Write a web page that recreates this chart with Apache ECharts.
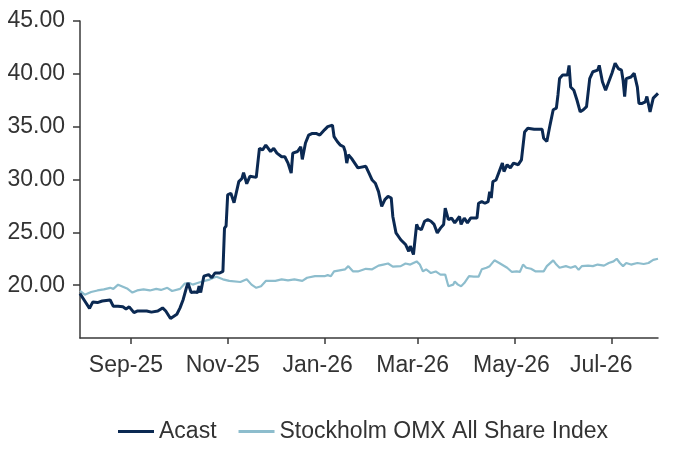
<!DOCTYPE html>
<html>
<head>
<meta charset="utf-8">
<script src="https://cdn.jsdelivr.net/npm/echarts@6/dist/echarts.min.js"></script>
<style>
  html, body { margin: 0; padding: 0; background: #fff; }
  #chart { width: 687px; height: 467px; }
</style>
</head>
<body>
<div id="chart"></div>
<script>
// share price, SEK
const acast = [
  ['2025-07-31', 19.2], ['2025-08-03', 18.5], ['2025-08-06', 17.8], ['2025-08-08', 18.4],
  ['2025-08-11', 18.35], ['2025-08-14', 18.5], ['2025-08-15', 18.35], ['2025-08-19', 18.6],
  ['2025-08-21', 18.0], ['2025-08-24', 18.0], ['2025-08-27', 17.95], ['2025-08-29', 17.75],
  ['2025-08-31', 17.95], ['2025-09-03', 17.4], ['2025-09-05', 17.55], ['2025-09-11', 17.55],
  ['2025-09-14', 17.45], ['2025-09-18', 17.55], ['2025-09-21', 17.85], ['2025-09-23', 17.55],
  ['2025-09-26', 16.85], ['2025-09-30', 17.25], ['2025-10-02', 17.85], ['2025-10-04', 18.65],
  ['2025-10-06', 19.75], ['2025-10-07', 20.2], ['2025-10-09', 19.3], ['2025-10-11', 19.35],
  ['2025-10-13', 19.3], ['2025-10-14', 19.9], ['2025-10-15', 19.3], ['2025-10-17', 20.85],
  ['2025-10-20', 21.0], ['2025-10-22', 20.7], ['2025-10-24', 21.15], ['2025-10-27', 21.15],
  ['2025-10-29', 21.3], ['2025-10-30', 25.4], ['2025-10-31', 25.6], ['2025-11-01', 28.55],
  ['2025-11-03', 28.7], ['2025-11-05', 27.8], ['2025-11-08', 29.8], ['2025-11-10', 30.1],
  ['2025-11-11', 30.65], ['2025-11-13', 29.6], ['2025-11-15', 30.3], ['2025-11-19', 30.2],
  ['2025-11-21', 32.95], ['2025-11-23', 32.8], ['2025-11-25', 33.25], ['2025-11-28', 32.65],
  ['2025-11-30', 32.95], ['2025-12-02', 32.5], ['2025-12-05', 32.15], ['2025-12-07', 32.15],
  ['2025-12-09', 31.55], ['2025-12-11', 30.6], ['2025-12-12', 32.5], ['2025-12-15', 32.65],
  ['2025-12-17', 33.1], ['2025-12-18', 31.9], ['2025-12-20', 33.45], ['2025-12-22', 34.2],
  ['2025-12-24', 34.35], ['2025-12-27', 34.35], ['2025-12-29', 34.2], ['2026-01-01', 34.7],
  ['2026-01-03', 35.0], ['2026-01-06', 35.15], ['2026-01-07', 34.05], ['2026-01-09', 33.6],
  ['2026-01-10', 33.75], ['2026-01-11', 33.25], ['2026-01-13', 33.1], ['2026-01-14', 32.65],
  ['2026-01-15', 31.55], ['2026-01-16', 32.35], ['2026-01-18', 32.0], ['2026-01-20', 31.55],
  ['2026-01-22', 31.1], ['2026-01-23', 31.25], ['2026-01-27', 31.25], ['2026-01-29', 30.6],
  ['2026-01-31', 29.95], ['2026-02-02', 29.65], ['2026-02-03', 29.65], ['2026-02-04', 28.85],
  ['2026-02-06', 27.45], ['2026-02-08', 28.1], ['2026-02-10', 28.4], ['2026-02-12', 28.25],
  ['2026-02-13', 26.5], ['2026-02-15', 24.95], ['2026-02-18', 24.3], ['2026-02-19', 24.15],
  ['2026-02-21', 23.85], ['2026-02-23', 23.2], ['2026-02-24', 23.7], ['2026-02-26', 22.9],
  ['2026-02-27', 22.9], ['2026-02-28', 25.75], ['2026-03-01', 25.4], ['2026-03-03', 25.25],
  ['2026-03-05', 26.05], ['2026-03-07', 26.2], ['2026-03-09', 26.05], ['2026-03-11', 25.75],
  ['2026-03-13', 24.95], ['2026-03-15', 25.4], ['2026-03-17', 25.75], ['2026-03-18', 27.3],
  ['2026-03-20', 26.2], ['2026-03-22', 26.35], ['2026-03-24', 25.9], ['2026-03-27', 26.5],
  ['2026-03-28', 25.75], ['2026-03-30', 26.35], ['2026-04-01', 25.9], ['2026-04-03', 26.35],
  ['2026-04-07', 26.35], ['2026-04-08', 27.75], ['2026-04-10', 27.9], ['2026-04-12', 27.75],
  ['2026-04-14', 27.9], ['2026-04-15', 28.85], ['2026-04-16', 28.25], ['2026-04-17', 29.8],
  ['2026-04-19', 29.95], ['2026-04-20', 29.8], ['2026-04-23', 31.55], ['2026-04-24', 30.75],
  ['2026-04-26', 31.4], ['2026-04-28', 31.1], ['2026-04-30', 31.55], ['2026-05-03', 31.4],
  ['2026-05-05', 31.85], ['2026-05-07', 34.5], ['2026-05-09', 34.85], ['2026-05-13', 34.75],
  ['2026-05-18', 34.75], ['2026-05-19', 33.9], ['2026-05-21', 33.6], ['2026-05-23', 35.15],
  ['2026-05-25', 36.6], ['2026-05-27', 36.75], ['2026-05-28', 38.0], ['2026-05-29', 39.55],
  ['2026-05-31', 39.9], ['2026-06-03', 39.9], ['2026-06-04', 40.8], ['2026-06-05', 38.75],
  ['2026-06-07', 38.45], ['2026-06-09', 37.5], ['2026-06-11', 36.4], ['2026-06-13', 36.6],
  ['2026-06-15', 36.9], ['2026-06-17', 39.55], ['2026-06-19', 40.2], ['2026-06-22', 40.35],
  ['2026-06-23', 40.8], ['2026-06-25', 39.25], ['2026-06-27', 38.45], ['2026-06-29', 39.25],
  ['2026-07-01', 40.05], ['2026-07-03', 41.0], ['2026-07-05', 40.5], ['2026-07-07', 40.35],
  ['2026-07-08', 39.4], ['2026-07-09', 37.85], ['2026-07-10', 39.55], ['2026-07-13', 39.7],
  ['2026-07-15', 40.05], ['2026-07-17', 38.75], ['2026-07-18', 37.2], ['2026-07-20', 37.2],
  ['2026-07-22', 37.35], ['2026-07-23', 37.85], ['2026-07-25', 36.4], ['2026-07-27', 37.7],
  ['2026-07-28', 37.85], ['2026-07-30', 38.15]
];

// index rebased to Acast's starting price
const omx = [
  ['2025-07-31', 19.45], ['2025-08-03', 19.1], ['2025-08-07', 19.35], ['2025-08-11', 19.5],
  ['2025-08-15', 19.6], ['2025-08-19', 19.75], ['2025-08-21', 19.65], ['2025-08-24', 20.05],
  ['2025-08-27', 19.85], ['2025-08-30', 19.65], ['2025-09-02', 19.3], ['2025-09-05', 19.5],
  ['2025-09-09', 19.6], ['2025-09-13', 19.5], ['2025-09-17', 19.65], ['2025-09-20', 19.55],
  ['2025-09-24', 19.75], ['2025-09-27', 19.45], ['2025-10-02', 19.65], ['2025-10-05', 20.15],
  ['2025-10-08', 20.2], ['2025-10-10', 20.05], ['2025-10-13', 20.2], ['2025-10-16', 20.35],
  ['2025-10-20', 20.5], ['2025-10-23', 20.7], ['2025-10-25', 20.8], ['2025-10-29', 20.55],
  ['2025-11-02', 20.4], ['2025-11-09', 20.3], ['2025-11-13', 20.55], ['2025-11-16', 20.05],
  ['2025-11-19', 19.75], ['2025-11-22', 19.9], ['2025-11-25', 20.4], ['2025-12-01', 20.4],
  ['2025-12-05', 20.55], ['2025-12-09', 20.45], ['2025-12-13', 20.55], ['2025-12-18', 20.4],
  ['2025-12-21', 20.7], ['2025-12-26', 20.85], ['2026-01-01', 20.85], ['2026-01-03', 20.95],
  ['2026-01-05', 20.85], ['2026-01-07', 21.3], ['2026-01-14', 21.5], ['2026-01-16', 21.8],
  ['2026-01-19', 21.3], ['2026-01-22', 21.3], ['2026-01-27', 21.55], ['2026-01-31', 21.5],
  ['2026-02-04', 21.85], ['2026-02-07', 21.95], ['2026-02-10', 22.05], ['2026-02-13', 21.75],
  ['2026-02-18', 21.8], ['2026-02-21', 22.05], ['2026-02-24', 21.95], ['2026-02-28', 22.25],
  ['2026-03-02', 21.95], ['2026-03-04', 21.3], ['2026-03-06', 21.5], ['2026-03-09', 21.15],
  ['2026-03-12', 21.3], ['2026-03-15', 21.0], ['2026-03-18', 21.0], ['2026-03-20', 19.9],
  ['2026-03-23', 20.05], ['2026-03-24', 20.35], ['2026-03-26', 20.05], ['2026-03-28', 19.9],
  ['2026-03-30', 20.2], ['2026-04-02', 20.85], ['2026-04-05', 20.8], ['2026-04-08', 20.8],
  ['2026-04-10', 21.5], ['2026-04-13', 21.65], ['2026-04-15', 21.8], ['2026-04-18', 22.35],
  ['2026-04-21', 22.1], ['2026-04-26', 21.65], ['2026-04-29', 21.25], ['2026-05-02', 21.3],
  ['2026-05-04', 21.25], ['2026-05-06', 21.95], ['2026-05-08', 21.65], ['2026-05-11', 21.55],
  ['2026-05-14', 21.3], ['2026-05-19', 21.3], ['2026-05-21', 21.8], ['2026-05-25', 22.35],
  ['2026-05-27', 21.95], ['2026-05-29', 21.65], ['2026-06-02', 21.8], ['2026-06-05', 21.65],
  ['2026-06-08', 21.8], ['2026-06-10', 21.45], ['2026-06-12', 21.8], ['2026-06-16', 21.85],
  ['2026-06-19', 21.8], ['2026-06-22', 21.95], ['2026-06-26', 21.85], ['2026-06-29', 22.1],
  ['2026-07-02', 22.25], ['2026-07-04', 22.5], ['2026-07-06', 22.1], ['2026-07-08', 21.8],
  ['2026-07-10', 22.1], ['2026-07-13', 21.95], ['2026-07-17', 22.1], ['2026-07-21', 22.0],
  ['2026-07-24', 22.1], ['2026-07-27', 22.4], ['2026-07-30', 22.5]
];

const tickDates = ['2025-09-01', '2025-11-01', '2026-01-01', '2026-03-01', '2026-05-01', '2026-07-01'];
const tickLabels = ['Sep-25', 'Nov-25', 'Jan-26', 'Mar-26', 'May-26', 'Jul-26'];
const yTicks = [20, 25, 30, 35, 40, 45];

const toTime = d => new Date(d + 'T00:00:00Z').getTime();
const tickValues = tickDates.map(toTime);

const font = 'Liberation Sans, Arial, sans-serif';
const textColor = '#333333';
const axisColor = '#3a3a3a';
const navy = '#0b2952';
const pale = '#8dbdcd';

const chart = echarts.init(document.getElementById('chart'));

chart.setOption({
  animation: false,
  grid: {left: 80, right: 29, top: 21, bottom: 129},
  legend: {
    top: 415,
    left: 113,
    icon: 'rect',
    itemWidth: 36,
    itemHeight: 3,
    itemGap: 22,
    textStyle: {fontFamily: font, fontSize: 23, color: textColor},
    data: [
      {name: 'Acast', itemStyle: {color: navy}},
      {name: 'Stockholm OMX All Share Index', itemStyle: {color: pale}}
    ]
  },
  xAxis: {
    // dates as ms timestamps on a plain value axis so ticks sit on the chosen month starts
    type: 'value',
    min: toTime('2025-07-31'),
    max: toTime('2026-07-30'),
    axisLine: {lineStyle: {color: axisColor, width: 1.5}},
    axisTick: {
      show: true, length: 6,
      lineStyle: {color: axisColor, width: 1.5},
      customValues: tickValues
    },
    axisLabel: {
      customValues: tickValues,
      margin: 16,
      align: 'left',
      padding: [0, 0, 0, -42],
      fontFamily: font, fontSize: 23, color: textColor,
      formatter: v => {
        const i = tickValues.indexOf(v);
        return i >= 0 ? tickLabels[i] : '';
      }
    },
    splitLine: {show: false}
  },
  yAxis: {
    type: 'value',
    min: 15,
    max: 45,
    interval: 5,
    axisLine: {show: true, lineStyle: {color: axisColor, width: 1.5}},
    axisTick: {
      show: true, length: 7,
      lineStyle: {color: axisColor, width: 1.5},
      customValues: yTicks
    },
    axisLabel: {
      customValues: yTicks,
      margin: 15,
      fontFamily: font, fontSize: 23, color: textColor,
      formatter: v => v.toFixed(2)
    },
    splitLine: {show: false}
  },
  series: [
    {
      name: 'Acast',
      type: 'line',
      data: acast.map(p => [toTime(p[0]), p[1]]),
      symbol: 'none',
      color: navy,
      lineStyle: {width: 3, color: navy},
      z: 3
    },
    {
      name: 'Stockholm OMX All Share Index',
      type: 'line',
      data: omx.map(p => [toTime(p[0]), p[1]]),
      symbol: 'none',
      color: pale,
      lineStyle: {width: 2.2, color: pale},
      z: 2
    }
  ]
});
</script>
</body>
</html>
